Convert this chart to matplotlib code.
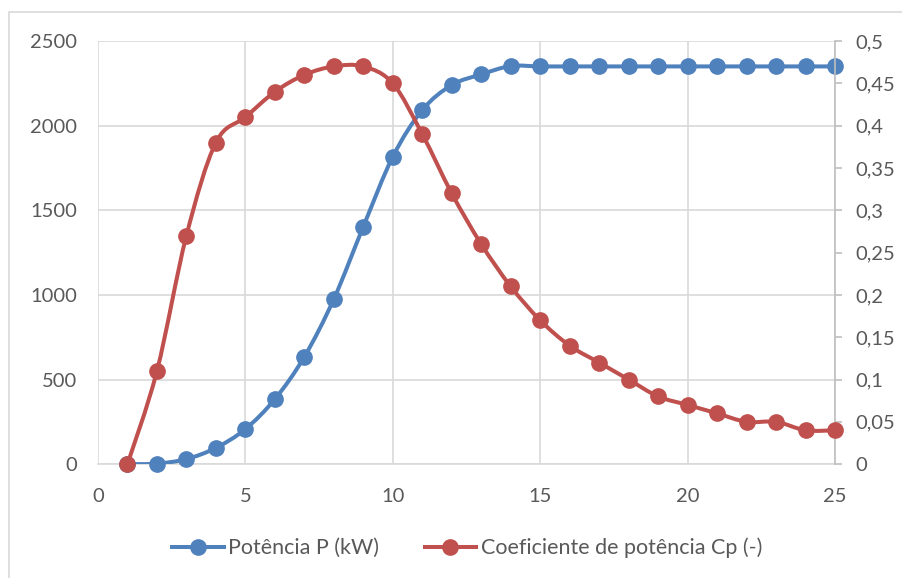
import numpy as np
import matplotlib.pyplot as plt
from matplotlib.path import Path
from matplotlib.patches import PathPatch, Rectangle
from matplotlib.lines import Line2D

plt.rcParams['font.family'] = ['Lato', 'DejaVu Sans']

# wind speed (m/s)
velocidade = list(range(1, 26))
# power curve P (kW)
potencia = [0, 3, 30, 96, 207, 384, 634, 975, 1403, 1816, 2092, 2240, 2303,
            2352, 2350, 2350, 2350, 2350, 2350, 2350, 2350, 2350, 2350, 2350, 2350]
# power coefficient Cp (-)
cp = [0, 0.11, 0.27, 0.38, 0.41, 0.44, 0.46, 0.47, 0.47, 0.45, 0.39, 0.32, 0.26,
      0.21, 0.17, 0.14, 0.12, 0.10, 0.08, 0.07, 0.06, 0.05, 0.05, 0.04, 0.04]

azul = '#4f81bd'
vermelho = '#c0504d'
cinza_txt = '#595959'
cinza_grade = '#d9d9d9'
fs = 14.5


def curva_suave(x, y):
    # smoothed line through the points (cubic bezier segments, Excel style)
    x = np.asarray(x, float)
    y = np.asarray(y, float)
    n = len(x)
    verts = [(x[0], y[0])]
    codes = [Path.MOVETO]
    for i in range(n - 1):
        i0 = max(i - 1, 0)
        i3 = min(i + 2, n - 1)
        c1 = (x[i] + (x[i + 1] - x[i0]) / 6, y[i] + (y[i + 1] - y[i0]) / 6)
        c2 = (x[i + 1] - (x[i3] - x[i]) / 6, y[i + 1] - (y[i3] - y[i]) / 6)
        verts += [c1, c2, (x[i + 1], y[i + 1])]
        codes += [Path.CURVE4] * 3
    return Path(verts, codes)


fig = plt.figure(figsize=(9.02, 5.78), dpi=100)
ax = fig.add_axes([0.1086, 0.197, 0.8171, 0.732])
ax2 = ax.twinx()

ax.set_xlim(0, 25)
ax.set_ylim(0, 2500)
ax2.set_ylim(0, 0.5)
ax.set_xticks(range(0, 26, 5))
ax.set_yticks(range(0, 2501, 500))
ax2.set_yticks(np.arange(0, 0.501, 0.05))
ax2.set_yticklabels([('%g' % v).replace('.', ',') for v in np.round(np.arange(0, 0.501, 0.05), 2)])

ax.grid(True, color=cinza_grade, linewidth=1.2)
ax.set_axisbelow(True)
for s in ['top', 'left', 'right']:
    ax.spines[s].set_visible(False)
for s in ['top', 'left', 'bottom']:
    ax2.spines[s].set_visible(False)
ax.spines['bottom'].set_color(cinza_grade)
ax.spines['bottom'].set_linewidth(1.2)
ax2.spines['right'].set_color('#bfbfbf')
ax2.spines['right'].set_linewidth(1.2)

ax.tick_params(axis='y', length=0, labelsize=fs, labelcolor=cinza_txt, pad=15)
ax.tick_params(axis='x', length=0, labelsize=fs, labelcolor=cinza_txt, pad=17)
ax2.tick_params(axis='y', length=5, width=1.2, color='#bfbfbf', labelsize=fs,
                labelcolor=cinza_txt, pad=10)

ax.add_patch(PathPatch(curva_suave(velocidade, potencia), facecolor='none',
                       edgecolor=azul, linewidth=2.9, zorder=3))
ax.plot(velocidade, potencia, linestyle='none', marker='o', markersize=11,
        color=azul, zorder=4, clip_on=False)
ax2.add_patch(PathPatch(curva_suave(velocidade, cp), facecolor='none',
                        edgecolor=vermelho, linewidth=2.9, zorder=3))
ax2.plot(velocidade, cp, linestyle='none', marker='o', markersize=11,
         color=vermelho, zorder=4, clip_on=False)

handles = [Line2D([], [], color=azul, linewidth=2.9, marker='o', markersize=11),
           Line2D([], [], color=vermelho, linewidth=2.9, marker='o', markersize=11)]
leg = fig.legend(handles, ['Potência P (kW)', 'Coeficiente de potência Cp (-)'],
                 loc='center', bbox_to_anchor=(0.518, 0.052), ncol=2, frameon=False,
                 fontsize=15.5, handlelength=2.4, handletextpad=0.2, columnspacing=2.1)
for t in leg.get_texts():
    t.set_color(cinza_txt)

# chart frame
fig.patches.append(Rectangle((9 / 902, -0.1), 1.2, 1 - 12 / 578 + 0.1,
                             transform=fig.transFigure, fill=False,
                             edgecolor='#d9d9d9', linewidth=1.2))

fig.savefig('out.png', dpi=100)
